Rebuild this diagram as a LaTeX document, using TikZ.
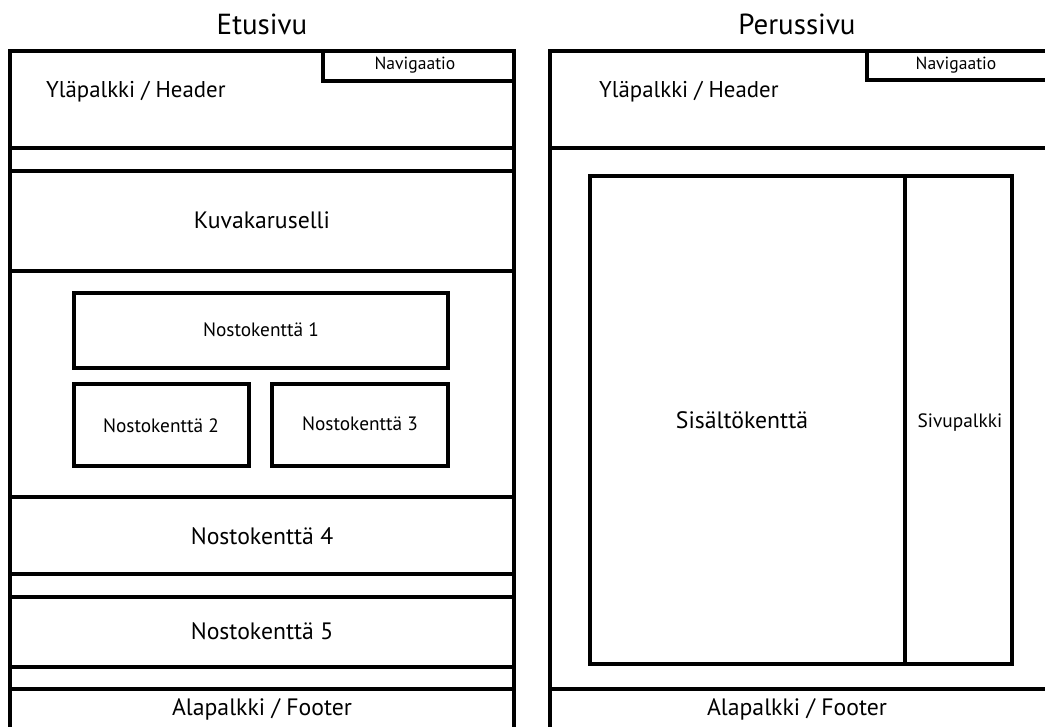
\documentclass[tikz,border=0pt]{standalone}
\usepackage{fontspec}
\setmainfont{PT Sans}
\tikzset{
  wire/.style={line width=2pt, line cap=rect},
  title/.style={font=\fontsize{16.5}{18}\selectfont},
  biglabel/.style={font=\fontsize{13.5}{15}\selectfont},
  headlabel/.style={font=\fontsize{13}{15}\selectfont},
  midlabel/.style={font=\fontsize{11}{13}\selectfont},
  smalllabel/.style={font=\fontsize{10}{12}\selectfont}
}
\begin{document}
\begin{tikzpicture}[x=0.02cm, y=-0.02cm]

% Page area (pixel grid, y downwards)
\useasboundingbox (0,0) rectangle (1045,727);

% ---- Left page: Etusivu ----
\node[title] (etusivu) at (262,24) {Etusivu};

% Outer frame, open at the bottom
\draw[wire] (10,727) -- (10,51) -- (514,51) -- (514,727);
% Navigation tab in the header
\draw[wire] (323,51) -- (323,81) -- (514,81);
\node[smalllabel] (navleft) at (415,65) {Navigaatio};
\node[headlabel, anchor=west] (headerleft) at (40,92) {Yläpalkki / Header};

% Horizontal band lines
\draw[wire] (10,148) -- (514,148);   % header bottom
\draw[wire] (10,171) -- (514,171);   % carousel top
\draw[wire] (10,271) -- (514,271);   % carousel bottom
\draw[wire] (10,497) -- (514,497);   % nosto 4 top
\draw[wire] (10,574) -- (514,574);   % nosto 4 bottom
\draw[wire] (10,597) -- (514,597);   % nosto 5 top
\draw[wire] (10,667) -- (514,667);   % nosto 5 bottom
\draw[wire] (10,689) -- (514,689);   % footer top

\node[biglabel] (karuselli) at (262,220) {Kuvakaruselli};

% Highlight boxes
\draw[wire] (74,293) rectangle (448,368);
\draw[wire] (74,384) rectangle (249,466);
\draw[wire] (272,384) rectangle (448,466);
\node[midlabel] (nosto1) at (261,330) {Nostokenttä 1};
\node[midlabel] (nosto2) at (161,426) {Nostokenttä 2};
\node[midlabel] (nosto3) at (360,424) {Nostokenttä 3};

\node[biglabel] (nosto4) at (262,536) {Nostokenttä 4};
\node[biglabel] (nosto5) at (262,631) {Nostokenttä 5};
\node[biglabel] (footerleft) at (262,709) {Alapalkki / Footer};

% ---- Right page: Perussivu ----
\node[title] (perussivu) at (797,24) {Perussivu};

% Outer frame, open at right and bottom
\draw[wire] (550,727) -- (550,51) -- (1045,51);
\draw[wire] (867,51) -- (867,80) -- (1045,80);
\node[smalllabel] (navright) at (956,65) {Navigaatio};
\node[headlabel, anchor=west] (headerright) at (593,92) {Yläpalkki / Header};

\draw[wire] (550,148) -- (1045,148);   % header bottom
\draw[wire] (550,689) -- (1045,689);   % footer top

% Content and sidebar
\draw[wire] (590,176) rectangle (1012,664);
\draw[wire] (905,176) -- (905,664);
\node[biglabel] (sisalto) at (742,420) {Sisältökenttä};
\node[midlabel] (sivupalkki) at (960,423) {Sivupalkki};

\node[biglabel] (footerright) at (797,709) {Alapalkki / Footer};

\end{tikzpicture}
\end{document}
